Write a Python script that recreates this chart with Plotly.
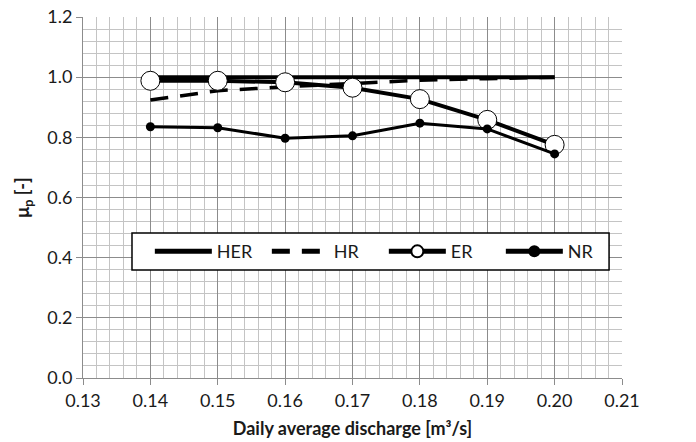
import plotly.graph_objects as go

discharge = [0.14, 0.15, 0.16, 0.17, 0.18, 0.19, 0.20]
her = [1.0, 1.0, 1.0, 1.0, 1.0, 1.0, 1.0]
hr = [0.924, 0.955, 0.968, 0.980, 0.990, 0.995, 1.0]
er = [0.988, 0.988, 0.983, 0.965, 0.927, 0.858, 0.775]
nr = [0.835, 0.832, 0.797, 0.805, 0.847, 0.828, 0.745]

FONT = "Lato"

fig = go.Figure()
fig.add_trace(go.Scatter(x=discharge, y=her, name="HER", mode="lines",
                         line=dict(color="black", width=4)))
fig.add_trace(go.Scatter(x=discharge, y=hr, name="HR", mode="lines",
                         line=dict(color="black", width=3.5, dash="18px,12px")))
fig.add_trace(go.Scatter(x=discharge, y=er, name="ER", mode="lines+markers",
                         line=dict(color="black", width=4),
                         marker=dict(symbol="circle", size=19, color="white",
                                     line=dict(color="black", width=1))))
fig.add_trace(go.Scatter(x=discharge, y=nr, name="NR", mode="lines+markers",
                         line=dict(color="black", width=3),
                         marker=dict(symbol="circle", size=9, color="black")))

# legend frame (drawn as a shape so the entries can have inner padding)
fig.add_shape(type="rect", xref="paper", yref="paper",
              x0=0.0909, x1=0.976, y0=0.299, y1=0.402,
              fillcolor="white", line=dict(color="black", width=1.5), layer="above")

fig.update_layout(
    width=696, height=442,
    margin=dict(l=83, r=74, t=17, b=64),
    paper_bgcolor="white", plot_bgcolor="white",
    font=dict(family=FONT, size=18, color="#1a1a1a"),
    showlegend=True,
    legend=dict(orientation="h", x=0.124, xanchor="left", y=0.350, yanchor="middle",
                bgcolor="rgba(0,0,0,0)", borderwidth=0,
                itemwidth=57, entrywidth=45, font=dict(size=18, family=FONT),
                itemsizing="constant", tracegroupgap=0),
    xaxis=dict(range=[0.13, 0.21], dtick=0.01, tick0=0.13, tickformat=".2f",
               automargin=False,
               showgrid=True, gridcolor="#8c8c8c", gridwidth=1,
               minor=dict(dtick=0.002, showgrid=True, gridcolor="#c4c4c4", gridwidth=1),
               showline=True, linecolor="#8c8c8c", linewidth=1,
               ticks="outside", ticklen=6, tickcolor="#8c8c8c",
               zeroline=False, mirror=False,
               title=dict(text="<b>Daily average discharge [m³/s]</b>", standoff=12,
                          font=dict(size=18))),
    yaxis=dict(range=[0, 1.2], dtick=0.2, tickformat=".1f",
               automargin=False,
               showgrid=True, gridcolor="#8c8c8c", gridwidth=1,
               minor=dict(dtick=0.04, showgrid=True, gridcolor="#c4c4c4", gridwidth=1),
               showline=True, linecolor="#8c8c8c", linewidth=1,
               ticks="outside", ticklen=6, tickcolor="#8c8c8c",
               zeroline=False,
               title=dict(text="<b>μ<sub>p</sub> [-]</b>", standoff=12,
                          font=dict(size=18))),
)

fig.write_html("out.html", config={"displayModeBar": False},
               post_script="document.body.style.margin='0';")
